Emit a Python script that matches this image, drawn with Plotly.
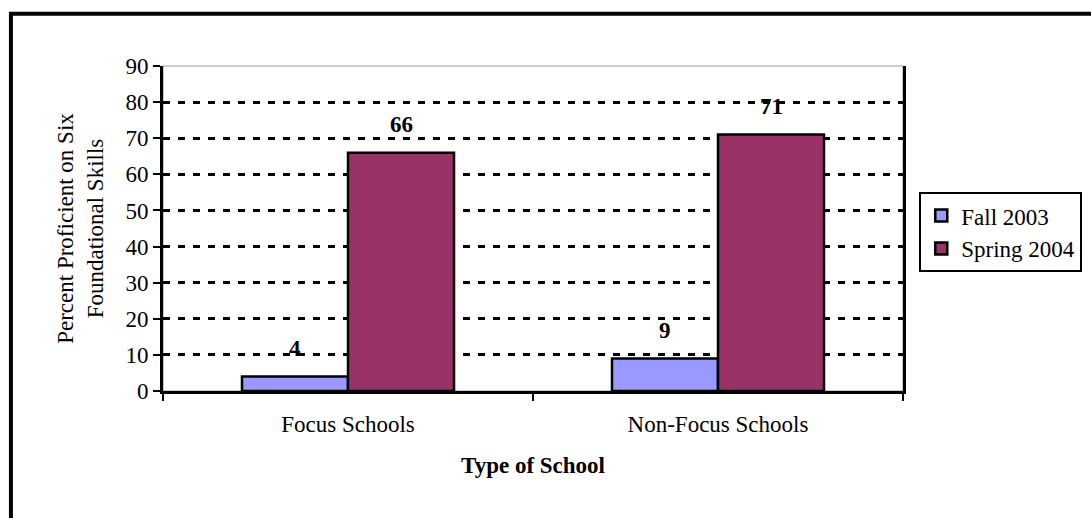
import plotly.graph_objects as go

# Data
schools = ["Focus Schools", "Non-Focus Schools"]
fall_2003 = [4, 9]
spring_2004 = [66, 71]
series_names = ["Fall 2003", "Spring 2004"]
y_ticks = [0, 10, 20, 30, 40, 50, 60, 70, 80, 90]

FONT = "'Times New Roman', 'Liberation Serif', 'DejaVu Serif', serif"
FALL_COLOR = "#9999FF"
SPRING_COLOR = "#993366"
BARGAP = 0.427

fig = go.Figure()
for name, vals, color in [(series_names[0], fall_2003, FALL_COLOR),
                          (series_names[1], spring_2004, SPRING_COLOR)]:
    fig.add_trace(go.Bar(
        name=name, x=schools, y=vals,
        marker=dict(color=color, line=dict(color="black", width=2.5)),
    ))

# Value labels above each bar (category-index coordinates, offset to each bar's centre)
half = (1 - BARGAP) / 4
for si, vals in enumerate([fall_2003, spring_2004]):
    off = -half if si == 0 else half
    for ci, v in enumerate(vals):
        fig.add_annotation(
            x=ci + off, y=v, xref="x", yref="y",
            text=f"<b>{v}</b>", showarrow=False,
            yanchor="middle", yshift=28,
            font=dict(family=FONT, size=23, color="black"),
        )

# Outer chart frame
fig.add_shape(type="rect", xref="paper", yref="paper",
              x0=-0.2055, x1=1.3, y0=1.1605, y1=-0.5,
              line=dict(color="black", width=4), layer="above")
# Thin plot-area border under the gridlines
fig.add_shape(type="rect", xref="x domain", yref="y domain",
              x0=0, x1=1, y0=0, y1=1,
              line=dict(color="#9a9a9a", width=1), layer="below")

fig.update_layout(
    width=1091, height=518,
    margin=dict(l=163, r=188, t=66, b=127, autoexpand=False),
    paper_bgcolor="white", plot_bgcolor="white",
    barmode="group", bargap=BARGAP, bargroupgap=0,
    font=dict(family=FONT, size=23, color="black"),
    showlegend=True,
    legend=dict(
        x=1.022, xanchor="left", y=0.612, yanchor="top",
        bordercolor="black", borderwidth=2, bgcolor="white",
        font=dict(family=FONT, size=23, color="black"),
        itemwidth=30, tracegroupgap=0,
    ),
    xaxis=dict(
        type="category",
        showline=True, linecolor="black", linewidth=3,
        ticks="outside", tickson="boundaries", ticklen=7, tickwidth=2, tickcolor="black",
        showgrid=False,
        tickfont=dict(family=FONT, size=23),
        ticklabelstandoff=10,
        title=dict(text="<b>Type of School</b>", standoff=22,
                   font=dict(family=FONT, size=23)),
        automargin=False,
    ),
    yaxis=dict(
        range=[0, 90], tickvals=y_ticks,
        showline=True, linecolor="black", linewidth=3, mirror=True,
        ticks="outside", ticklen=7, tickwidth=2, tickcolor="black",
        showgrid=True, gridcolor="black", gridwidth=2.5, griddash="7px,8px",
        zeroline=False,
        tickfont=dict(family=FONT, size=23),
        title=dict(text="Percent Proficient on Six<br>Foundational Skills", standoff=16,
                   font=dict(family=FONT, size=23)),
        automargin=False,
    ),
)

fig.write_html("out.html")
